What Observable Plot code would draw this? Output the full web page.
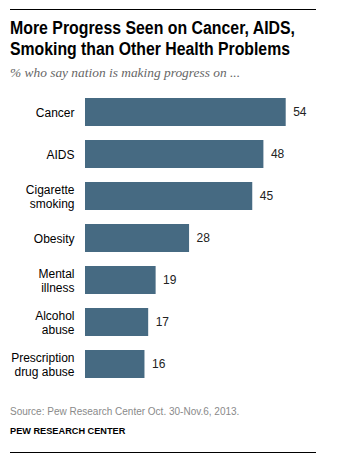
<!DOCTYPE html>
<html>
<head>
<meta charset="utf-8">
<script src="https://cdn.jsdelivr.net/npm/d3@7"></script>
<script src="https://cdn.jsdelivr.net/npm/@observablehq/plot@0.6"></script>
<style>
  html, body { margin: 0; padding: 0; background: #fff; }
  #wrap { position: relative; width: 348px; height: 472px; overflow: hidden; font-family: "Liberation Sans", Arial, sans-serif; }
  .rule { position: absolute; left: 10px; width: 306px; height: 0; border-top: 1px solid #000; }
  #title { position: absolute; left: 10px; top: 18px; width: 340px; font-family: "Liberation Sans", Arial, sans-serif; font-weight: bold; font-size: 18px; line-height: 21px; color: #000; }
  #title span { display: block; white-space: nowrap; transform-origin: 0 50%; width: max-content; }
  #subtitle { position: absolute; left: 10px; top: 65px; font-family: "Liberation Serif", serif; font-style: italic; font-size: 13.4px; color: #666; white-space: nowrap; }
  #chart { position: absolute; left: 0; top: 83px; }
  #source { position: absolute; left: 10px; top: 406px; font-size: 10px; color: #8a8a8a; white-space: nowrap; }
  #credit { position: absolute; left: 10px; top: 426px; font-size: 9.2px; font-weight: bold; color: #000; white-space: nowrap; }
</style>
</head>
<body>
<div id="wrap">
  <div class="rule" style="top:9px"></div>
  <div id="title"><span data-w="285">More Progress Seen on Cancer, AIDS,</span><span data-w="280">Smoking than Other Health Problems</span></div>
  <div id="subtitle">% who say nation is making progress on ...</div>
  <div id="chart"></div>
  <div id="source">Source: Pew Research Center Oct. 30-Nov.6, 2013.</div>
  <div id="credit">PEW RESEARCH CENTER</div>
  <div class="rule" style="top:452px"></div>
</div>
<script>
const categories = ["Cancer", "AIDS", "Cigarette\nsmoking", "Obesity", "Mental\nillness", "Alcohol\nabuse", "Prescription\ndrug abuse"];
const values = [54, 48, 45, 28, 19, 17, 16];

const data = categories.map((c, i) => ({category: c, value: values[i]}));

const chart = Plot.plot({
  width: 348,
  height: 310,
  marginTop: 0,
  marginBottom: 0,
  marginLeft: 85,
  marginRight: 40,
  x: {domain: [0, 60], axis: null},
  y: {domain: categories, padding: 0.325, axis: null},
  style: {fontFamily: "'Liberation Sans', Arial, sans-serif", background: "transparent"},
  marks: [
    Plot.barX(data, {x: "value", y: "category", fill: "#466a82"}),
    Plot.text(data, {x: 0, y: "category", text: "category", dx: -11, textAnchor: "end", fontSize: 12, lineHeight: 1.15, fill: "#000"}),
    Plot.text(data, {x: "value", y: "category", text: d => String(d.value), dx: 7, textAnchor: "start", fontSize: 12, fill: "#222"})
  ]
});
document.getElementById("chart").appendChild(chart);

// fit title lines to the reference's condensed widths
document.querySelectorAll("#title span").forEach(s => {
  const w = s.getBoundingClientRect().width;
  const target = +s.dataset.w;
  if (w > 0) s.style.transform = `scaleX(${target / w})`;
});
</script>
</body>
</html>
